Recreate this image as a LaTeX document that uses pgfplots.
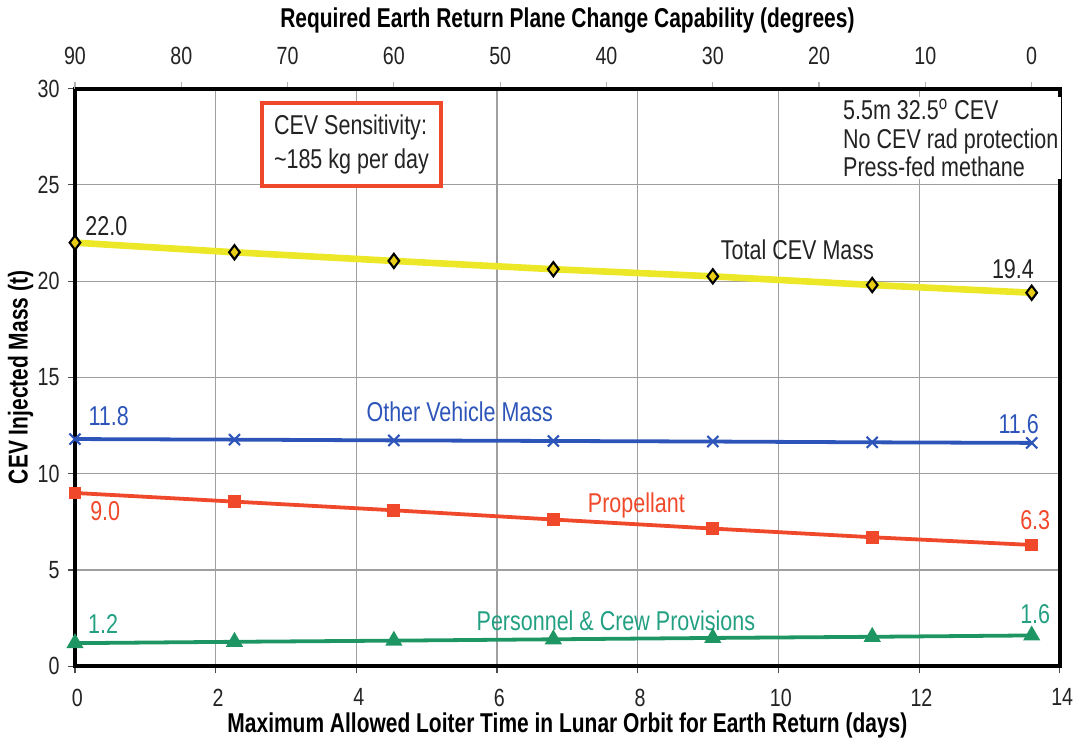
\documentclass[border=0pt]{standalone}
\usepackage{fontspec}
\setmainfont{Liberation Sans}[FakeStretch=0.79, BoldFeatures={FakeStretch=0.77}]
\usepackage{pgfplots}
\pgfplotsset{compat=1.18}

\definecolor{totline}{RGB}{236,232,40}
\definecolor{totmark}{RGB}{232,205,20}
\definecolor{othblue}{RGB}{45,85,185}
\definecolor{proprd}{RGB}{240,72,42}
\definecolor{persgrn}{RGB}{30,150,100}
\definecolor{perstxt}{RGB}{35,160,130}
\definecolor{txtgray}{RGB}{35,35,35}

\begin{document}
\begin{tikzpicture}
\begin{axis}[
    name=main,
    scale only axis,
    width=416pt, height=244pt,
    xmin=0, xmax=14, ymin=0, ymax=30,
    xtick={0,2,...,14}, ytick={0,5,...,30},
    grid=major,
    major grid style={gray!75, line width=0.5pt},
    axis line style={line width=1.6pt},
    tick align=outside,
    major tick length=3pt,
    tick style={gray!60!black, line width=0.5pt},
    xtick pos=bottom, ytick pos=left,
    /pgf/number format/assume math mode=true,
    ticklabel style={font=\fontsize{10.5}{12}\selectfont, text=txtgray},
    xticklabel style={xshift=1pt, yshift=-3pt},
    xlabel={\bfseries Maximum Allowed Loiter Time in Lunar Orbit for Earth Return (days)},
    ylabel={\bfseries CEV Injected Mass (t)},
    label style={font=\fontsize{11.5}{13}\selectfont},
    xlabel style={yshift=4pt},
    ylabel style={yshift=-5pt},
    clip=false,
]
% Personnel & Crew Provisions
\addplot[persgrn, line width=1.6pt, mark=triangle*, mark size=2.6pt] coordinates {
    (0,1.2) (2.267,1.27) (4.533,1.33) (6.8,1.4) (9.067,1.47) (11.333,1.53) (13.6,1.6)};
% Propellant
\addplot[proprd, line width=1.6pt, mark=square*, mark size=1.9pt] coordinates {
    (0,9.0) (2.267,8.55) (4.533,8.1) (6.8,7.62) (9.067,7.15) (11.333,6.7) (13.6,6.3)};
% Other Vehicle Mass
\addplot[othblue, line width=1.6pt, mark=x, mark size=3.3pt, mark options={line width=0.9pt}] coordinates {
    (0,11.8) (2.267,11.77) (4.533,11.73) (6.8,11.7) (9.067,11.67) (11.333,11.63) (13.6,11.6)};
% Total CEV Mass
\addplot[totline, line width=2.8pt, mark=diamond*, mark size=3pt,
    mark options={fill=totmark, draw=black, line width=0.9pt}] coordinates {
    (0,22.0) (2.267,21.5) (4.533,21.05) (6.8,20.62) (9.067,20.25) (11.333,19.8) (13.6,19.4)};

\begin{scope}[font=\fontsize{11.5}{13}\selectfont]
\node[txtgray, anchor=west] at (axis cs:0.03,22.85) {22.0};
\node[txtgray, anchor=east] at (axis cs:13.75,20.65) {19.4};
\node[txtgray] at (axis cs:10.27,21.64) {Total CEV Mass};
\node[othblue] at (axis cs:0.48,13.0) {11.8};
\node[othblue, anchor=east] at (axis cs:13.82,12.6) {11.6};
\node[othblue] at (axis cs:5.47,13.23) {Other Vehicle Mass};
\node[proprd] at (axis cs:0.43,8.05) {9.0};
\node[proprd] at (axis cs:13.65,7.6) {6.3};
\node[proprd] at (axis cs:7.98,8.35) {Propellant};
\node[perstxt] at (axis cs:0.4,2.2) {1.2};
\node[perstxt] at (axis cs:13.65,2.7) {1.6};
\node[perstxt] at (axis cs:7.69,2.34) {Personnel \& Crew Provisions};
\node[draw=proprd, line width=1.6pt, fill=white, align=left, text=txtgray,
    inner xsep=5pt, inner ysep=5pt, font=\fontsize{11.5}{14.5}\selectfont]
    at (axis cs:3.93,27.1) {CEV Sensitivity:\\\textasciitilde185 kg per day};
\node[anchor=north west, align=left, text=txtgray, fill=white, inner sep=1pt,
    font=\fontsize{11.5}{12}\selectfont]
    at (axis cs:10.88,29.6) {5.5m 32.5\textsuperscript{o} CEV\\No CEV rad protection\\Press-fed methane};
\end{scope}
\end{axis}
\begin{axis}[
    scale only axis,
    width=416pt, height=244pt,
    xmin=0, xmax=14, ymin=0, ymax=30,
    axis x line*=top,
    axis y line=none,
    axis line style={line width=1.6pt},
    xtick={0,1.5111,3.0222,4.5333,6.0444,7.5556,9.0667,10.5778,12.0889,13.6},
    xticklabels={90,80,70,60,50,40,30,20,10,0},
    tick align=outside,
    major tick length=3pt,
    tick style={gray!60, line width=0.5pt},
    ticklabel style={font=\fontsize{10.5}{12}\selectfont, text=txtgray},
    xticklabel style={yshift=3.5pt},
    xlabel={\bfseries Required Earth Return Plane Change Capability (degrees)},
    label style={font=\fontsize{11.5}{13}\selectfont},
    xlabel style={yshift=-1pt},
]
\end{axis}
\end{tikzpicture}
\end{document}
